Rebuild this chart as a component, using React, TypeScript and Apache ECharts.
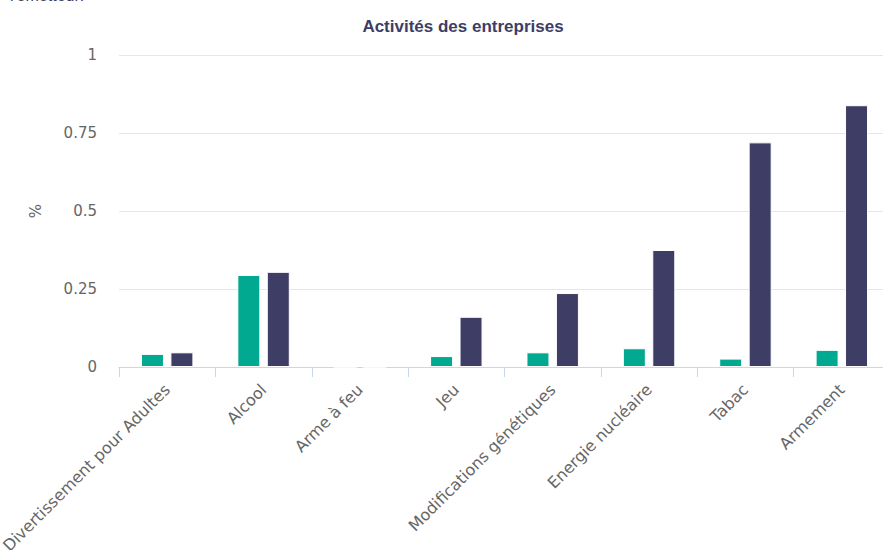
import React, { useEffect, useRef } from "react";
import * as echarts from "echarts";

const categories = [
  "Divertissement pour Adultes",
  "Alcool",
  "Arme à feu",
  "Jeu",
  "Modifications génétiques",
  "Energie nucléaire",
  "Tabac",
  "Armement",
];
const seriesA = [0.042, 0.295, 0, 0.035, 0.047, 0.06, 0.027, 0.055];
const seriesB = [0.047, 0.305, 0, 0.161, 0.237, 0.375, 0.72, 0.839];
const yTicks = [0, 0.25, 0.5, 0.75, 1];

const DEJAVU = "'DejaVu Sans', Verdana, sans-serif";
const ARIAL = "'Liberation Sans', Arial, sans-serif";

export default function App() {
  const ref = useRef<HTMLDivElement>(null);
  useEffect(() => {
    if (!ref.current) return;
    const chart = echarts.init(ref.current, null, { renderer: "svg" });
    chart.setOption({
      animation: false,
      backgroundColor: "#ffffff",
      title: {
        text: "Activités des entreprises",
        left: 458,
        textAlign: "center",
        top: 13,
        textStyle: {
          fontFamily: ARIAL,
          fontSize: 17,
          fontWeight: "bold",
          color: "#3d3d66",
        },
      },
      graphic: [
        {
          type: "text",
          left: 10,
          top: -13,
          style: {
            text: "l'émetteur:",
            fontFamily: ARIAL,
            fontSize: 16,
            fill: "#3d3d66",
          },
        },
      ],
      grid: {
        left: 119,
        right: -7,
        top: 55,
        bottom: 183,
        containLabel: false,
        outerBoundsMode: "none",
      },
      xAxis: {
        type: "category",
        data: categories,
        boundaryGap: true,
        axisLine: { lineStyle: { color: "#ccd6eb", width: 1 } },
        axisTick: { show: true, length: 10, lineStyle: { color: "#ccd6eb" } },
        axisLabel: {
          rotate: 45,
          interval: 0,
          margin: 20,
          fontFamily: DEJAVU,
          fontSize: 16,
          color: "#666666",
        },
      },
      yAxis: {
        type: "value",
        min: 0,
        max: 1,
        interval: 0.25,
        name: "%",
        nameLocation: "middle",
        nameGap: 76,
        nameRotate: 90,
        nameTextStyle: { fontFamily: DEJAVU, fontSize: 15, color: "#666666" },
        axisLine: { show: false },
        axisTick: { show: false },
        splitLine: { lineStyle: { color: "#e6e6e6", width: 1 } },
        axisLabel: {
          margin: 22,
          fontFamily: DEJAVU,
          fontSize: 15,
          color: "#666666",
          formatter: (v: number) => (yTicks.includes(v) ? String(v) : ""),
        },
      },
      series: [
        {
          name: "Portefeuille",
          type: "bar",
          data: seriesA,
          barWidth: 23,
          barGap: "28%",
          itemStyle: { color: "#00a98f", borderColor: "#ffffff", borderWidth: 1 },
        },
        {
          name: "Indice",
          type: "bar",
          data: seriesB,
          barWidth: 23,
          itemStyle: { color: "#3d3d66", borderColor: "#ffffff", borderWidth: 1 },
        },
      ],
    });
    return () => chart.dispose();
  }, []);
  return (
    <div
      ref={ref}
      style={{ position: "fixed", left: 0, top: 0, width: 883, height: 550 }}
    />
  );
}
